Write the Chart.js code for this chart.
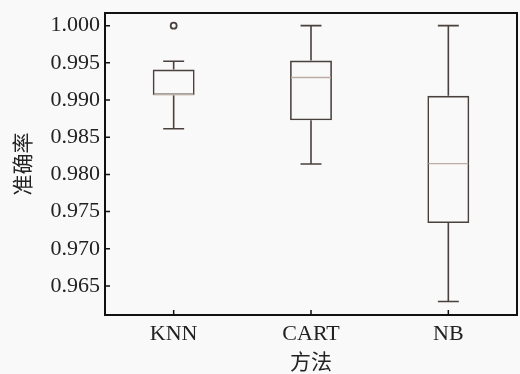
<!DOCTYPE html>
<html>
<head>
<meta charset="utf-8">
<script src="https://cdn.jsdelivr.net/npm/chart.js@4.4.0/dist/chart.umd.min.js"></script>
<style>
html,body{margin:0;padding:0;background:#f9f9f9;}
#wrap{width:520px;height:374px;}
</style>
</head>
<body>
<div id="wrap"><canvas id="c" width="520" height="374"></canvas></div>
<script>
const categories = ["KNN", "CART", "NB"];
const whiskerLow = [0.98614, 0.98141, 0.96291];
const q1 = [0.99065, 0.98727, 0.97346];
const median = [0.99075, 0.99303, 0.98145];
const q3 = [0.99410, 0.99531, 0.99056];
const whiskerHigh = [0.99521, 1.00000, 1.00000];
const outliers = [1.00000, null, null];
const yTicks = [0.965, 0.970, 0.975, 0.980, 0.985, 0.990, 0.995, 1.000];
const yMin = 0.9611, yMax = 1.0017;

const BOX = '#4a403d', MED = '#bcaea5';

const boxPlugin = {
  id: 'boxExtras',
  afterDatasetsDraw(chart) {
    const ctx = chart.ctx, y = chart.scales.y;
    const meta = chart.getDatasetMeta(0);
    ctx.save();
    meta.data.forEach((bar, i) => {
      const cx = bar.x, w = bar.width;
      ctx.lineWidth = 1.6; ctx.strokeStyle = BOX;
      const yHi = y.getPixelForValue(whiskerHigh[i]);
      const yQ3 = y.getPixelForValue(q3[i]);
      const yQ1 = y.getPixelForValue(q1[i]);
      const yLo = y.getPixelForValue(whiskerLow[i]);
      ctx.beginPath();
      ctx.moveTo(cx, yHi); ctx.lineTo(cx, yQ3);
      ctx.moveTo(cx, yQ1); ctx.lineTo(cx, yLo);
      ctx.moveTo(cx - w/4, yHi); ctx.lineTo(cx + w/4, yHi);
      ctx.moveTo(cx - w/4, yLo); ctx.lineTo(cx + w/4, yLo);
      ctx.stroke();
      const ym = y.getPixelForValue(median[i]);
      ctx.strokeStyle = MED; ctx.lineWidth = 1.4;
      ctx.beginPath();
      ctx.moveTo(cx - w/2 + 1, ym); ctx.lineTo(cx + w/2 - 1, ym);
      ctx.stroke();
    });
    ctx.restore();
  },
  afterDraw(chart) {
    const ctx = chart.ctx, a = chart.chartArea, y = chart.scales.y, x = chart.scales.x;
    ctx.save();
    ctx.strokeStyle = '#111'; ctx.lineWidth = 2;
    ctx.strokeRect(a.left, a.top, a.right - a.left, a.bottom - a.top);
    ctx.lineWidth = 1.5;
    ctx.beginPath();
    y.ticks.forEach(t => {
      const py = y.getPixelForValue(t.value);
      ctx.moveTo(a.left, py); ctx.lineTo(a.left + 5, py);
    });
    categories.forEach((c, i) => {
      const px = x.getPixelForValue(i);
      ctx.moveTo(px, a.bottom); ctx.lineTo(px, a.bottom - 5);
    });
    ctx.stroke();
    ctx.restore();
  }
};

new Chart(document.getElementById('c'), {
  data: {
    labels: categories,
    datasets: [
      {
        type: 'bar',
        data: q1.map((v, i) => [v, q3[i]]),
        backgroundColor: 'rgba(0,0,0,0)',
        borderColor: BOX,
        borderWidth: 1.6,
        borderSkipped: false,
        categoryPercentage: 1,
        barPercentage: 0.305
      },
      {
        type: 'line',
        data: outliers,
        showLine: false,
        pointRadius: 3,
        pointBorderWidth: 1.8,
        pointBorderColor: BOX,
        pointBackgroundColor: '#f9f9f9'
      }
    ]
  },
  options: {
    responsive: false,
    animation: false,
    layout: { autoPadding: false, padding: { top: 13, right: 3, left: 0, bottom: 0 } },
    plugins: { legend: { display: false }, tooltip: { enabled: false } },
    scales: {
      x: {
        type: 'category',
        grid: { display: false, drawTicks: false },
        border: { display: false },
        ticks: { color: '#222', padding: 6, font: { family: 'Liberation Serif', size: 22 } },
        title: { display: true, text: '方法', color: '#222', padding: { top: 0, bottom: 0 }, font: { family: 'Noto Sans CJK SC', size: 21 } },
        afterFit(s) { s.height = 59; s.paddingLeft = 0; s.paddingRight = 0; }
      },
      y: {
        type: 'linear',
        min: yMin, max: yMax,
        grid: { display: false, drawTicks: false },
        border: { display: false },
        afterBuildTicks(s) { s.ticks = yTicks.map(v => ({ value: v })); },
        ticks: { color: '#222', padding: 5, font: { family: 'Liberation Serif', size: 22 }, callback: v => Number(v).toFixed(3) },
        title: { display: true, text: '准确率', color: '#222', padding: { top: 9, bottom: 0 }, font: { family: 'Noto Sans CJK SC', size: 21 } },
        afterFit(s) { s.width = 105; s.paddingTop = 0; s.paddingBottom = 0; }
      }
    }
  },
  plugins: [boxPlugin]
});
</script>
</body>
</html>
